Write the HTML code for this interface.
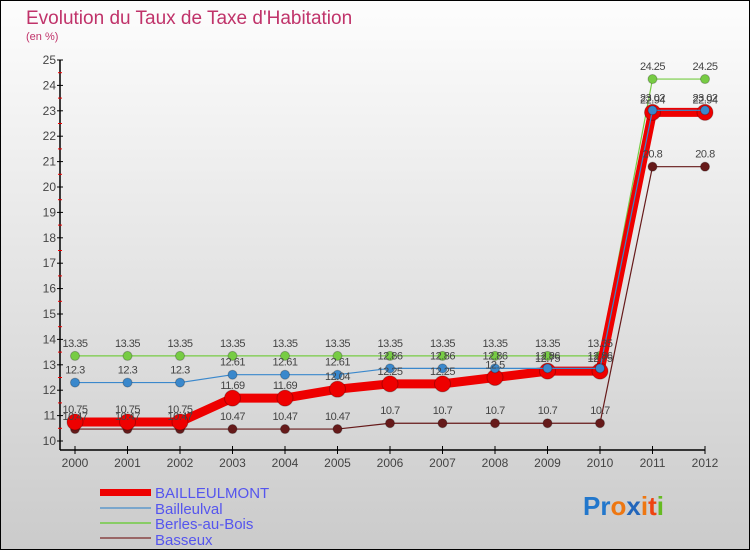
<!DOCTYPE html>
<html><head><meta charset="utf-8"><style>
body{margin:0;width:750px;height:550px;overflow:hidden;font-family:"Liberation Sans",sans-serif}
#c{position:absolute;left:0;top:0}
</style></head><body>
<svg id="c" width="750" height="550" xmlns="http://www.w3.org/2000/svg">
<defs><linearGradient id="bg" x1="0" y1="0" x2="0" y2="1"><stop offset="0" stop-color="#fdfdfd"/><stop offset="1" stop-color="#cbcbcb"/></linearGradient></defs>
<rect x="0.5" y="0.5" width="749" height="549" fill="url(#bg)" stroke="#000"/>
<text x="26" y="24" font-size="19" fill="#c0336a">Evolution du Taux de Taxe d'Habitation</text>
<text x="26" y="40" font-size="11" fill="#c0336a">(en %)</text>
<g id="axes"></g><g id="series"></g><g id="labels"></g>
<g font-size="15" fill="#5555ee">
<rect x="100" y="489" width="51" height="7" fill="#ee0000"/>
<text x="155" y="498">BAILLEULMONT</text>
<line x1="100" y1="508" x2="151" y2="508" stroke="#7aa6cc" stroke-width="2"/>
<text x="155" y="514">Bailleulval</text>
<line x1="100" y1="523" x2="151" y2="523" stroke="#88cc66" stroke-width="2"/>
<text x="155" y="529">Berles-au-Bois</text>
<line x1="100" y1="538" x2="151" y2="538" stroke="#996666" stroke-width="2"/>
<text x="155" y="545">Basseux</text>
</g>
<g font-size="26" font-weight="bold">
<text x="583" y="515"><tspan fill="#2277cc">Pr</tspan><tspan fill="#ee7711">o</tspan><tspan fill="#2266bb">x</tspan><tspan fill="#ee7711">i</tspan><tspan fill="#ee4411">t</tspan><tspan fill="#66bb22">i</tspan></text>
</g>
</svg>
<script>
const years=[2000,2001,2002,2003,2004,2005,2006,2007,2008,2009,2010,2011,2012];
const yTicks=[10,11,12,13,14,15,16,17,18,19,20,21,22,23,24,25];
const bailleulmont=[10.75,10.75,10.75,11.69,11.69,12.04,12.25,12.25,12.5,12.75,12.75,22.94,22.94];
const bailleulval=[12.3,12.3,12.3,12.61,12.61,12.61,12.86,12.86,12.86,12.86,12.86,23.02,23.02];
const berles=[13.35,13.35,13.35,13.35,13.35,13.35,13.35,13.35,13.35,13.35,13.35,24.25,24.25];
const basseux=[10.47,10.47,10.47,10.47,10.47,10.47,10.7,10.7,10.7,10.7,10.7,20.8,20.8];
const NS="http://www.w3.org/2000/svg";
const X=i=>75+i*52.5, Y=v=>441-(v-10)*25.4;
function el(t,a,p){const e=document.createElementNS(NS,t);for(const k in a)e.setAttribute(k,a[k]);document.getElementById(p).appendChild(e);return e;}
let e=el('line',{x1:60,y1:Y(25),x2:60,y2:450,stroke:'#000','stroke-width':1.5},'axes');


e=el('line',{x1:60,y1:450,x2:X(12),y2:450,stroke:'#000','stroke-width':1.5},'axes');


yTicks.forEach(v=>{
 el('line',{x1:57,y1:Y(v),x2:63,y2:Y(v),stroke:'#000'},'axes');
 if(v<25)el('line',{x1:58,y1:Y(v+0.5),x2:62,y2:Y(v+0.5),stroke:'#e00'},'axes');
 const t=el('text',{x:56,y:Y(v)+4,'font-size':12,fill:'#444','text-anchor':'end'},'axes');t.textContent=v;
 
 
});
years.forEach((y,i)=>{
 el('line',{x1:X(i),y1:446,x2:X(i),y2:454,stroke:'#000'},'axes');
 const t=el('text',{x:X(i),y:467,'font-size':12,fill:'#444','text-anchor':'middle'},'axes');t.textContent=y;
 
 
});
function series(vals,color,w,r,name){
 const p=el('polyline',{points:vals.map((v,i)=>X(i)+','+Y(v)).join(' '),fill:'none',stroke:color,'stroke-width':w,'stroke-linejoin':'round'},'series');
 
 
 vals.forEach((v,i)=>{
  const c=el('circle',{cx:X(i),cy:Y(v),r:r,fill:color,stroke:'rgba(0,0,0,0.25)'},'series');
  
  
  const t=el('text',{x:X(i),y:Y(v)-9,'font-size':11,fill:'#444','text-anchor':'middle','letter-spacing':'-0.5'},'labels');t.textContent=v;
  
  
 });
}
series(basseux,'#661a1a',1.2,4.5,'basseux');
series(berles,'#77cc44',1.2,4.5,'berles-au-bois');
series(bailleulmont,'#ee0000',9,8,'bailleulmont');
series(bailleulval,'#3a88cc',1.2,4.5,'bailleulval');
</script>
</body></html>
